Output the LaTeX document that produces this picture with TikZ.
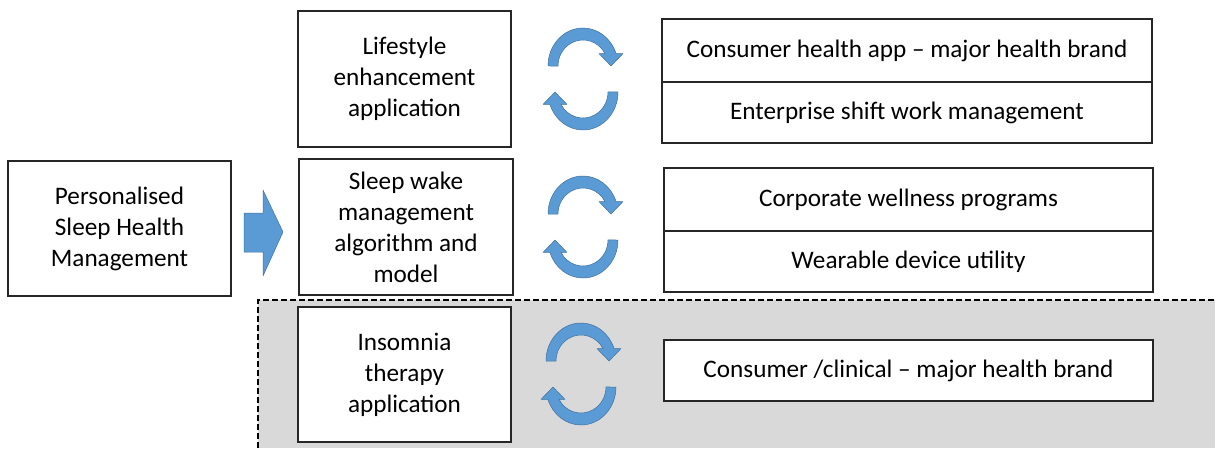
\documentclass[tikz,border=0pt]{standalone}
\usepackage{fontspec}
\setmainfont{Carlito}
\definecolor{arrblue}{HTML}{5B9BD5}
\definecolor{arredge}{HTML}{41719C}
\definecolor{boxline}{HTML}{262626}
\definecolor{regiongray}{HTML}{D9D9D9}
\begin{document}
\begin{tikzpicture}[x=1pt,y=1pt,
  box/.style={draw=boxline,line width=1.3pt,fill=white,align=center,inner sep=0pt,
    font=\fontsize{25.2}{31}\selectfont},
  arr/.style={fill=arrblue,draw=arredge,line width=0.5pt,line join=round},
  cyc/.pic={
    \foreach \r in {0,180}{
      \begin{scope}[rotate=\r]
        \filldraw[arr] (-35,13) arc[start angle=180,end angle=19,x radius=35,y radius=38]
          -- (40,25.4) -- (28,13) -- (16,25.4) -- (22,25.4)
          arc[start angle=28.5,end angle=180,x radius=25,y radius=26] -- cycle;
      \end{scope}}
  }]
\useasboundingbox (0,0) rectangle (1215,448);
% shaded region
\fill[regiongray] (258,0) rectangle (1215,148);
\draw[line width=1.2pt,dash pattern=on 6pt off 3pt] (258,0) -- (258,148) -- (1215,148);

% left box
\node[box,minimum width=223pt,minimum height=135pt] (psh) at (119.5,219.5) {Personalised\\Sleep Health\\Management};
% big arrow
\filldraw[arr] (244,235) -- (263,235) -- (263,258) -- (283,216) -- (263,172) -- (263,196) -- (244,196) -- cycle;

% middle boxes
\node[box,minimum width=213pt,minimum height=136pt] (life) at (404.5,369) {Lifestyle\\enhancement\\application};
\node[box,minimum width=214pt,minimum height=136pt] (swm) at (406,221) {Sleep wake\\management\\algorithm and\\model};
\node[box,minimum width=213pt,minimum height=135pt] (ins) at (404.5,73.5) {Insomnia\\therapy\\application};

% cycle arrows
\pic at (583,369) {cyc};
\pic at (583,221) {cyc};
\pic at (581,74) {cyc};

% right boxes
\node[box,minimum width=490pt,minimum height=63pt] (r1a) at (907,397.5) {Consumer health app -- major health brand};
\node[box,minimum width=490pt,minimum height=61pt] (r1b) at (907,335.5) {Enterprise shift work management};
\node[box,minimum width=489pt,minimum height=63pt] (r2a) at (908.5,248.5) {Corporate wellness programs};
\node[box,minimum width=489pt,minimum height=61pt] (r2b) at (908.5,186.5) {Wearable device utility};
\node[box,minimum width=489pt,minimum height=61pt] (r3) at (908.5,77.5) {Consumer /clinical -- major health brand};
\end{tikzpicture}
\end{document}
